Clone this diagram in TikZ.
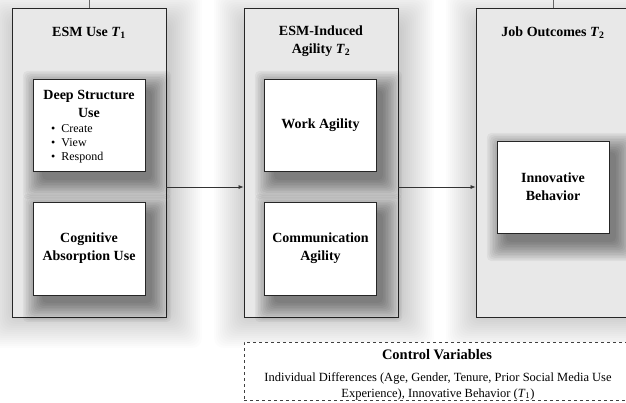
\documentclass[tikz,border=0pt]{standalone}
\usepackage{fontspec}
\setmainfont{Liberation Serif}
\usetikzlibrary{arrows.meta}
\tikzset{
  outerbox/.style={draw=black!85, line width=0.8pt, fill=black!9, minimum width=154pt, minimum height=309pt, inner sep=0pt},
  innerbox/.style={draw=black!85, line width=0.8pt, fill=white, minimum width=112pt, minimum height=92pt, inner sep=0pt},
  boldlbl/.style={font=\bfseries\fontsize{14}{18}\selectfont, align=center, inner sep=0pt},
  itemlbl/.style={font=\fontsize{12}{14.5}\selectfont, anchor=west, inner sep=0pt},
  ctrlbox/.style={draw=black!75, dashed, line width=0.8pt, fill=white, inner sep=0pt},
  arrowline/.style={draw=black!80, line width=0.7pt, -{Latex[length=5pt,width=4pt]}},
  tick/.style={draw=black!60, line width=0.7pt}
}
\newcommand{\mysoftshadow}[8]{%
  \foreach \k in {0,...,#5}{%
    \fill[black, opacity=#6, rounded corners=#7] ({#1-\k*#8},{#2-\k*#8}) rectangle ({#3+\k*#8},{#4+\k*#8});
  }%
}
\begin{document}
\begin{tikzpicture}[x=1pt,y=-1pt]
\useasboundingbox (0,0) rectangle (626,402);
\clip (0,0) rectangle (626,402);
\fill[white] (0,0) rectangle (626,402);
% outer shadows
\mysoftshadow{14}{22}{170}{316}{16}{0.010}{10pt}{2}
\mysoftshadow{246}{22}{402}{316}{16}{0.010}{10pt}{2}
\mysoftshadow{478}{22}{634}{316}{16}{0.010}{10pt}{2}
% outer boxes
\node[outerbox] (b1) at (89,162.5) {};
\node[outerbox] (b2) at (321,162.5) {};
\node[outerbox] (b3) at (553,162.5) {};
% inner shadows
\mysoftshadow{42}{90}{152}{180}{12}{0.042}{5pt}{1.6}
\mysoftshadow{42}{213}{152}{303}{12}{0.042}{5pt}{1.6}
\mysoftshadow{274}{90}{383}{180}{12}{0.042}{5pt}{1.6}
\mysoftshadow{274}{213}{383}{303}{12}{0.042}{5pt}{1.6}
\mysoftshadow{506}{152}{616}{242}{12}{0.042}{5pt}{1.6}
% inner boxes
\node[innerbox] (dsu) at (89,125) {};
\node[innerbox, minimum height=93pt] (cau) at (89,248.5) {};
\node[innerbox] (wa) at (320.5,125) {};
\node[innerbox, minimum height=93pt] (ca) at (320.5,248.5) {};
\node[innerbox] (ib) at (553,187) {};
% titles
\node[boldlbl] (t1) at (89,33) {ESM Use \textit{T}\textsubscript{1}};
\node[boldlbl] (t2) at (321,41.5) {ESM-Induced\\Agility \textit{T}\textsubscript{2}};
\node[boldlbl] (t3) at (553,33) {Job Outcomes \textit{T}\textsubscript{2}};
% inner labels
\node[boldlbl] (dsul) at (89,103.5) {Deep Structure\\Use};
\node[itemlbl] (i1) at (51,128.5) {\textbullet\hspace{6pt}Create};
\node[itemlbl] (i2) at (51,143) {\textbullet\hspace{6pt}View};
\node[itemlbl] (i3) at (51,157.5) {\textbullet\hspace{6pt}Respond};
\node[boldlbl] (caul) at (cau) {Cognitive\\Absorption Use};
\node[boldlbl] (wal) at (wa) {Work Agility};
\node[boldlbl] (cal) at (ca) {Communication\\Agility};
\node[boldlbl] (ibl) at (ib) {Innovative\\Behavior};
% arrows
\draw[arrowline] (b1.east |- ib) -- (b2.west |- ib);
\draw[arrowline] (b2.east |- ib) -- (b3.west |- ib);
% top ticks
\coordinate (k1) at (89,0);
\coordinate (k2) at (553,0);
\draw[tick] (k1) -- (b1.north);
\draw[tick] (k2) -- (b3.north);
% control variables
\node[ctrlbox, minimum width=394pt, minimum height=58pt] (cv) at (441,371) {};
\node[boldlbl, font=\bfseries\fontsize{14.5}{17}\selectfont] (cvt) at (437,355) {Control Variables};
\node[font=\fontsize{12.5}{16}\selectfont, align=center, inner sep=0pt] (cvb) at (438,386) {Individual Differences (Age, Gender, Tenure, Prior Social Media Use\\Experience), Innovative Behavior (\textit{T}\textsubscript{1})};
\end{tikzpicture}
\end{document}
